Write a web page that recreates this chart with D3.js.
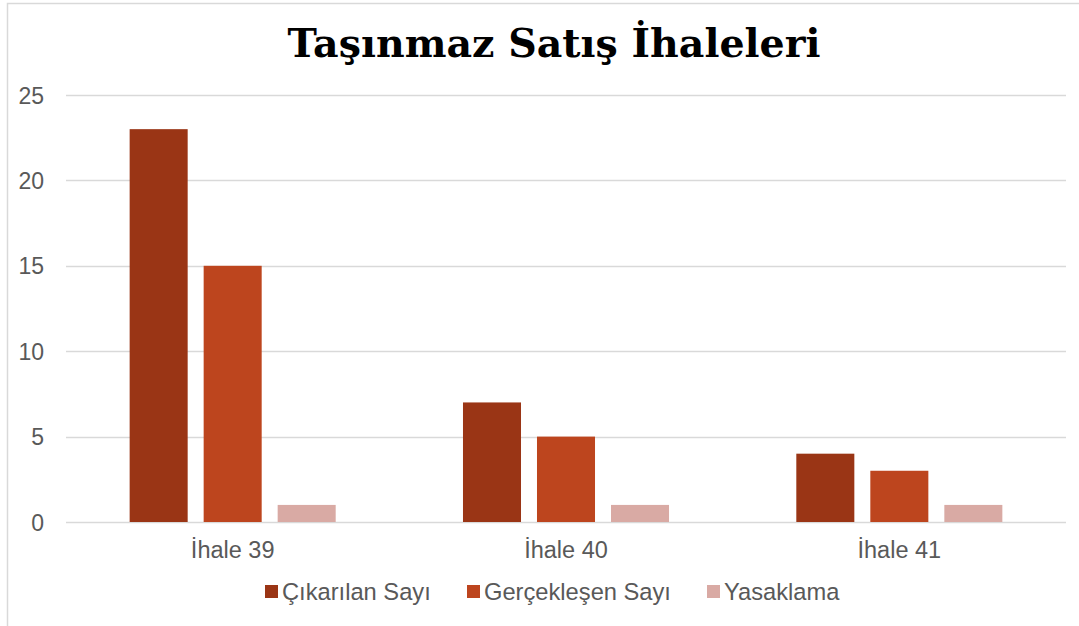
<!DOCTYPE html>
<html><head><meta charset="utf-8">
<script src="https://cdn.jsdelivr.net/npm/d3@7"></script>
<style>body{margin:0;background:#fff}svg{display:block}</style>
</head><body>
<script>
const categories = ["İhale 39", "İhale 40", "İhale 41"];
const seriesNames = ["Çıkarılan Sayı", "Gerçekleşen Sayı", "Yasaklama"];
const cikarilan = [23, 7, 4];
const gerceklesen = [15, 5, 3];
const yasaklama = [1, 1, 1];
const yTicks = [0, 5, 10, 15, 20, 25];
const colors = ["#9A3515", "#BD451E", "#D9AAA4"];
const title = "Taşınmaz Satış İhaleleri";

const W = 1079, H = 626;
const FONT = "Liberation Sans, Arial, sans-serif";
const svg = d3.select("body").append("svg").attr("width", W).attr("height", H);
svg.append("rect").attr("x", 7.5).attr("y", 3.5).attr("width", W + 10).attr("height", H + 10)
  .attr("fill", "#fff").attr("stroke", "#d9d9d9").attr("stroke-width", 1.5);

const m = {left: 66, right: 1066, top: 95, bottom: 522};
const x = d3.scaleBand().domain(categories).range([m.left, m.right]).paddingInner(0).paddingOuter(0);
const y = d3.scaleLinear().domain([0, 25]).range([m.bottom, m.top]);
const x1 = d3.scaleBand().domain(seriesNames).range([0, x.bandwidth()]).paddingInner(0.216).paddingOuter(0.86);

svg.append("g").selectAll("line").data(yTicks).join("line")
  .attr("x1", m.left).attr("x2", m.right)
  .attr("y1", d => Math.round(y(d)) + 0.5).attr("y2", d => Math.round(y(d)) + 0.5)
  .attr("stroke", "#d9d9d9").attr("stroke-width", 1.3);

const yAxis = d3.axisLeft(y).tickValues(yTicks).tickSize(0).tickPadding(0);
const gy = svg.append("g").attr("transform", "translate(44,0)").call(yAxis);
gy.select(".domain").remove();
gy.selectAll("text").attr("font-family", FONT).attr("font-size", 23).attr("fill", "#595959").attr("dy", "0.35em");

const xAxis = d3.axisBottom(x).tickSize(0).tickPadding(19);
const gx = svg.append("g").attr("transform", `translate(0,${m.bottom})`).call(xAxis);
gx.select(".domain").remove();
gx.selectAll("text").attr("font-family", FONT).attr("font-size", 23.5).attr("fill", "#595959").attr("dy", "0.71em");

const data = [cikarilan, gerceklesen, yasaklama];
const groups = svg.append("g").selectAll("g").data(categories).join("g")
  .attr("transform", d => `translate(${x(d)},0)`);
groups.selectAll("rect").data((c, i) => seriesNames.map((s, j) => ({s, v: data[j][i], j})))
  .join("rect")
  .attr("x", d => x1(d.s)).attr("width", x1.bandwidth())
  .attr("y", d => y(d.v)).attr("height", d => y(0) - y(d.v))
  .attr("fill", d => colors[d.j]);

svg.append("text").attr("x", 554).attr("y", 57).attr("text-anchor", "middle")
  .attr("font-family", "DejaVu Serif, serif").attr("font-weight", "bold").attr("font-size", 39.5)
  .attr("fill", "#000").text(title);

const legX = [265, 467, 707];
const leg = svg.append("g").selectAll("g").data(seriesNames).join("g")
  .attr("transform", (d, i) => `translate(${legX[i]},585)`);
leg.append("rect").attr("width", 13).attr("height", 13).attr("fill", (d, i) => colors[i]);
leg.append("text").attr("x", 17).attr("y", 6.5).attr("dy", "0.35em")
  .attr("font-family", FONT).attr("font-size", 23.7).attr("fill", "#595959").text(d => d);
</script>
</body></html>
